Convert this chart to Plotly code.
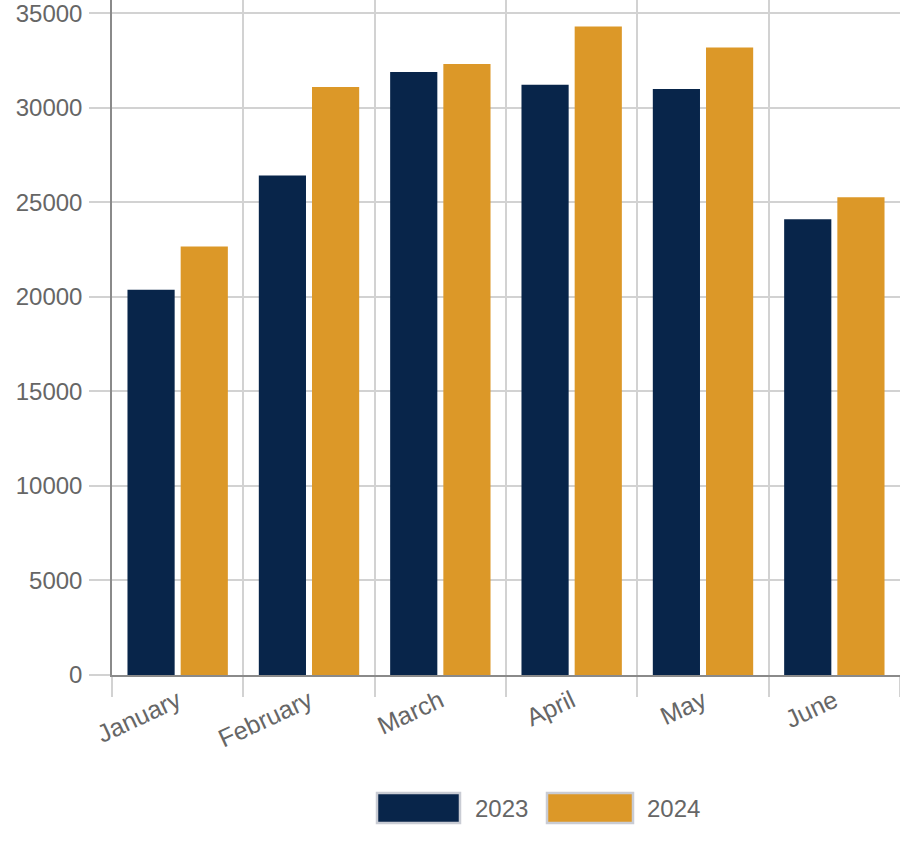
import plotly.graph_objects as go

months = ["January", "February", "March", "April", "May", "June"]
series_names = ["2023", "2024"]
values_2023 = [20370, 26420, 31890, 31220, 30990, 24110]
values_2024 = [22660, 31100, 32310, 34300, 33190, 25270]
colors = ["#08254A", "#DC9828"]
y_tick_vals = [0, 5000, 10000, 15000, 20000, 25000, 30000, 35000]

W, H = 900, 850
ML, MR, MT, MB = 112, 0, 0, 175
PW, PH = W - ML - MR, H - MT - MB


def px_x(p):
    return (p - ML) / PW


def px_y(p):
    return (H - MB - p) / PH


fig = go.Figure()
for name, vals, col in zip(series_names, [values_2023, values_2024], colors):
    fig.add_trace(go.Bar(
        x=months, y=vals, name=name,
        marker=dict(color=col, line=dict(width=0)),
        showlegend=False,
    ))

font_family = "Liberation Sans, Arial, Helvetica, sans-serif"
grid_col = "#d2d2d2"
axis_col = "#8a8a8a"

fig.update_layout(
    width=W, height=H,
    margin=dict(l=ML, r=MR, t=MT, b=MB, pad=0),
    paper_bgcolor="white", plot_bgcolor="white",
    barmode="group", bargap=0.19, bargroupgap=0.113,
    font=dict(family=font_family, color="#666666", size=23),
    xaxis=dict(
        type="category", tickson="boundaries", ticks="outside", ticklen=20,
        tickcolor=grid_col, tickwidth=1.5, showgrid=True, gridcolor=grid_col,
        gridwidth=1.5, showline=True, linecolor=axis_col, linewidth=1.5,
        tickangle=-25, tickfont=dict(size=25, color="#666666"),
        range=[-0.5, 5.5], zeroline=False,
    ),
    yaxis=dict(
        range=[0, 35700], tickvals=y_tick_vals, tickformat="d", ticks="outside",
        ticklen=21, tickcolor=grid_col, tickwidth=1.5, showgrid=True,
        gridcolor=grid_col, gridwidth=1.5, showline=True, linecolor=axis_col,
        linewidth=1.5, zeroline=False, tickfont=dict(size=24, color="#666666"),
        ticklabelstandoff=2, ticklabeloverflow="allow",
    ),
)

# custom legend (large boxes as in reference)
legend_items = [
    (series_names[0], colors[0], 377, 460, 473),
    (series_names[1], colors[1], 547, 633, 645),
]
for name, col, x0, x1, tx in legend_items:
    fig.add_shape(type="rect", xref="paper", yref="paper",
                  x0=px_x(x0), x1=px_x(x1), y0=px_y(823), y1=px_y(793),
                  fillcolor=col, line=dict(color="#c9ccd4", width=2.5))
    fig.add_annotation(xref="paper", yref="paper", x=px_x(tx), y=px_y(808),
                       xanchor="left", yanchor="middle", text=name,
                       showarrow=False, font=dict(size=24, color="#666666"))

fig.write_html("out.html",
               config={"displayModeBar": False},
               post_script="document.body.style.margin='0px';"
                           "document.body.style.overflow='hidden';")
